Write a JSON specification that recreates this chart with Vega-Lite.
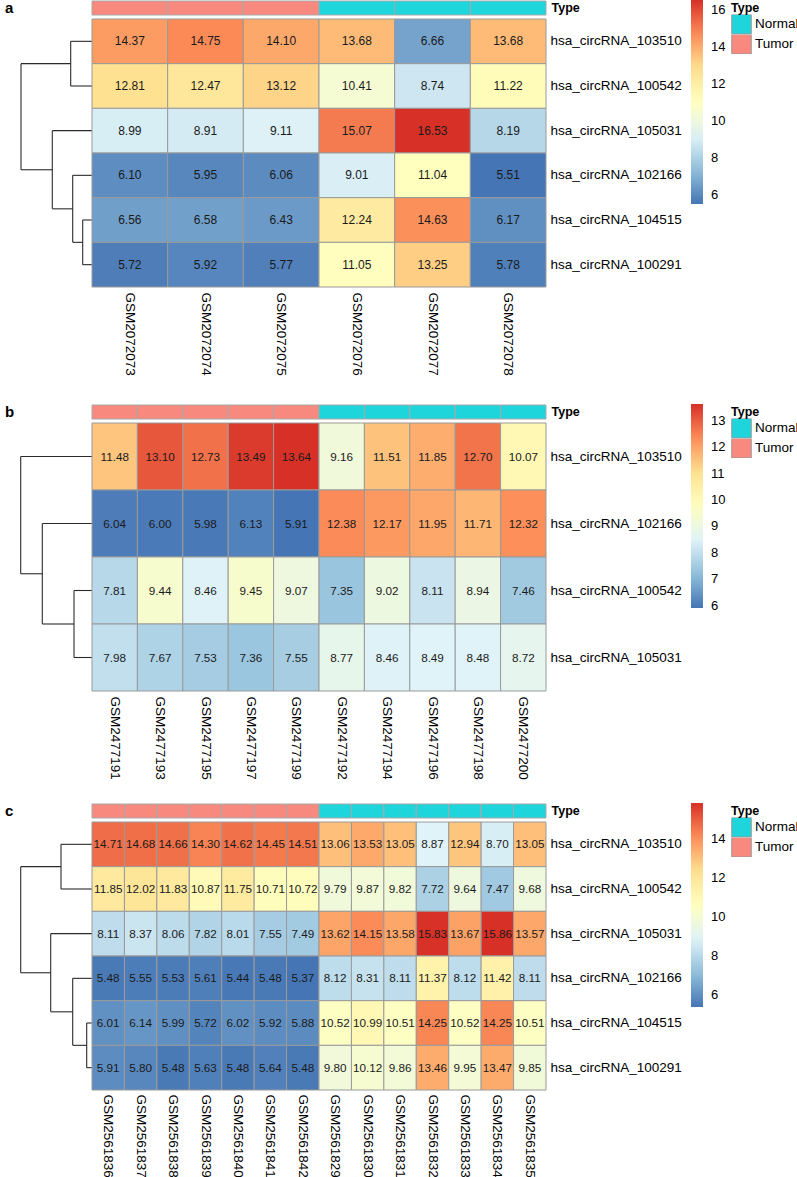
{
  "$schema": "https://vega.github.io/schema/vega-lite/v6.json",
  "padding": {"left": 5, "top": 0, "right": 0, "bottom": 0},
  "background": "white",
  "config": {
    "font": "Liberation Sans",
    "view": {"stroke": null},
    "axis": {"domain": false, "ticks": false, "tickSize": 0, "labelColor": "#000", "labelFontSize": 13.5, "grid": false},
    "legend": {"labelColor": "#000", "labelFontSize": 13.5, "titleColor": "#000", "titleFontSize": 12.5, "titleFontWeight": "bold", "gradientThickness": 12, "gradientLength": 204, "gradientStrokeWidth": 0, "rowPadding": 0, "symbolType": "square", "symbolSize": 380, "symbolStrokeColor": "#999999", "symbolStrokeWidth": 1, "titlePadding": 0}
  },
  "datasets": {
    "exprA": [
      {"gene": "hsa_circRNA_103510", "GSM2072073": 14.37, "GSM2072074": 14.75, "GSM2072075": 14.10, "GSM2072076": 13.68, "GSM2072077": 6.66, "GSM2072078": 13.68},
      {"gene": "hsa_circRNA_100542", "GSM2072073": 12.81, "GSM2072074": 12.47, "GSM2072075": 13.12, "GSM2072076": 10.41, "GSM2072077": 8.74, "GSM2072078": 11.22},
      {"gene": "hsa_circRNA_105031", "GSM2072073": 8.99, "GSM2072074": 8.91, "GSM2072075": 9.11, "GSM2072076": 15.07, "GSM2072077": 16.53, "GSM2072078": 8.19},
      {"gene": "hsa_circRNA_102166", "GSM2072073": 6.10, "GSM2072074": 5.95, "GSM2072075": 6.06, "GSM2072076": 9.01, "GSM2072077": 11.04, "GSM2072078": 5.51},
      {"gene": "hsa_circRNA_104515", "GSM2072073": 6.56, "GSM2072074": 6.58, "GSM2072075": 6.43, "GSM2072076": 12.24, "GSM2072077": 14.63, "GSM2072078": 6.17},
      {"gene": "hsa_circRNA_100291", "GSM2072073": 5.72, "GSM2072074": 5.92, "GSM2072075": 5.77, "GSM2072076": 11.05, "GSM2072077": 13.25, "GSM2072078": 5.78}
    ],
    "typeA": [
      {"sample": "GSM2072073", "Type": "Tumor", "track": "Type"},
      {"sample": "GSM2072074", "Type": "Tumor", "track": "Type"},
      {"sample": "GSM2072075", "Type": "Tumor", "track": "Type"},
      {"sample": "GSM2072076", "Type": "Normal", "track": "Type"},
      {"sample": "GSM2072077", "Type": "Normal", "track": "Type"},
      {"sample": "GSM2072078", "Type": "Normal", "track": "Type"}
    ],
    "dendA": [
      {"h1": 21.3, "h2": 21.3, "y1": 0, "y2": 1}, {"h1": 21.3, "h2": 0, "y1": 0, "y2": 0}, {"h1": 21.3, "h2": 0, "y1": 1, "y2": 1},
      {"h1": 9.3, "h2": 9.3, "y1": 4, "y2": 5}, {"h1": 9.3, "h2": 0, "y1": 4, "y2": 4}, {"h1": 9.3, "h2": 0, "y1": 5, "y2": 5},
      {"h1": 19.3, "h2": 19.3, "y1": 3, "y2": 4.5}, {"h1": 19.3, "h2": 0, "y1": 3, "y2": 3}, {"h1": 19.3, "h2": 9.3, "y1": 4.5, "y2": 4.5},
      {"h1": 39.7, "h2": 39.7, "y1": 2, "y2": 3.75}, {"h1": 39.7, "h2": 0, "y1": 2, "y2": 2}, {"h1": 39.7, "h2": 19.3, "y1": 3.75, "y2": 3.75},
      {"h1": 71, "h2": 71, "y1": 0.5, "y2": 2.875}, {"h1": 71, "h2": 21.3, "y1": 0.5, "y2": 0.5}, {"h1": 71, "h2": 39.7, "y1": 2.875, "y2": 2.875}
    ],
    "exprB": [
      {"gene": "hsa_circRNA_103510", "GSM2477191": 11.48, "GSM2477193": 13.10, "GSM2477195": 12.73, "GSM2477197": 13.49, "GSM2477199": 13.64, "GSM2477192": 9.16, "GSM2477194": 11.51, "GSM2477196": 11.85, "GSM2477198": 12.70, "GSM2477200": 10.07},
      {"gene": "hsa_circRNA_102166", "GSM2477191": 6.04, "GSM2477193": 6.00, "GSM2477195": 5.98, "GSM2477197": 6.13, "GSM2477199": 5.91, "GSM2477192": 12.38, "GSM2477194": 12.17, "GSM2477196": 11.95, "GSM2477198": 11.71, "GSM2477200": 12.32},
      {"gene": "hsa_circRNA_100542", "GSM2477191": 7.81, "GSM2477193": 9.44, "GSM2477195": 8.46, "GSM2477197": 9.45, "GSM2477199": 9.07, "GSM2477192": 7.35, "GSM2477194": 9.02, "GSM2477196": 8.11, "GSM2477198": 8.94, "GSM2477200": 7.46},
      {"gene": "hsa_circRNA_105031", "GSM2477191": 7.98, "GSM2477193": 7.67, "GSM2477195": 7.53, "GSM2477197": 7.36, "GSM2477199": 7.55, "GSM2477192": 8.77, "GSM2477194": 8.46, "GSM2477196": 8.49, "GSM2477198": 8.48, "GSM2477200": 8.72}
    ],
    "typeB": [
      {"sample": "GSM2477191", "Type": "Tumor", "track": "Type"},
      {"sample": "GSM2477193", "Type": "Tumor", "track": "Type"},
      {"sample": "GSM2477195", "Type": "Tumor", "track": "Type"},
      {"sample": "GSM2477197", "Type": "Tumor", "track": "Type"},
      {"sample": "GSM2477199", "Type": "Tumor", "track": "Type"},
      {"sample": "GSM2477192", "Type": "Normal", "track": "Type"},
      {"sample": "GSM2477194", "Type": "Normal", "track": "Type"},
      {"sample": "GSM2477196", "Type": "Normal", "track": "Type"},
      {"sample": "GSM2477198", "Type": "Normal", "track": "Type"},
      {"sample": "GSM2477200", "Type": "Normal", "track": "Type"}
    ],
    "dendB": [
      {"h1": 18, "h2": 18, "y1": 2, "y2": 3}, {"h1": 18, "h2": 0, "y1": 2, "y2": 2}, {"h1": 18, "h2": 0, "y1": 3, "y2": 3},
      {"h1": 49.7, "h2": 49.7, "y1": 1, "y2": 2.5}, {"h1": 49.7, "h2": 0, "y1": 1, "y2": 1}, {"h1": 49.7, "h2": 18, "y1": 2.5, "y2": 2.5},
      {"h1": 71.3, "h2": 71.3, "y1": 0, "y2": 1.75}, {"h1": 71.3, "h2": 0, "y1": 0, "y2": 0}, {"h1": 71.3, "h2": 49.7, "y1": 1.75, "y2": 1.75}
    ],
    "exprC": [
      {"gene": "hsa_circRNA_103510", "GSM2561836": 14.71, "GSM2561837": 14.68, "GSM2561838": 14.66, "GSM2561839": 14.30, "GSM2561840": 14.62, "GSM2561841": 14.45, "GSM2561842": 14.51, "GSM2561829": 13.06, "GSM2561830": 13.53, "GSM2561831": 13.05, "GSM2561832": 8.87, "GSM2561833": 12.94, "GSM2561834": 8.70, "GSM2561835": 13.05},
      {"gene": "hsa_circRNA_100542", "GSM2561836": 11.85, "GSM2561837": 12.02, "GSM2561838": 11.83, "GSM2561839": 10.87, "GSM2561840": 11.75, "GSM2561841": 10.71, "GSM2561842": 10.72, "GSM2561829": 9.79, "GSM2561830": 9.87, "GSM2561831": 9.82, "GSM2561832": 7.72, "GSM2561833": 9.64, "GSM2561834": 7.47, "GSM2561835": 9.68},
      {"gene": "hsa_circRNA_105031", "GSM2561836": 8.11, "GSM2561837": 8.37, "GSM2561838": 8.06, "GSM2561839": 7.82, "GSM2561840": 8.01, "GSM2561841": 7.55, "GSM2561842": 7.49, "GSM2561829": 13.62, "GSM2561830": 14.15, "GSM2561831": 13.58, "GSM2561832": 15.83, "GSM2561833": 13.67, "GSM2561834": 15.86, "GSM2561835": 13.57},
      {"gene": "hsa_circRNA_102166", "GSM2561836": 5.48, "GSM2561837": 5.55, "GSM2561838": 5.53, "GSM2561839": 5.61, "GSM2561840": 5.44, "GSM2561841": 5.48, "GSM2561842": 5.37, "GSM2561829": 8.12, "GSM2561830": 8.31, "GSM2561831": 8.11, "GSM2561832": 11.37, "GSM2561833": 8.12, "GSM2561834": 11.42, "GSM2561835": 8.11},
      {"gene": "hsa_circRNA_104515", "GSM2561836": 6.01, "GSM2561837": 6.14, "GSM2561838": 5.99, "GSM2561839": 5.72, "GSM2561840": 6.02, "GSM2561841": 5.92, "GSM2561842": 5.88, "GSM2561829": 10.52, "GSM2561830": 10.99, "GSM2561831": 10.51, "GSM2561832": 14.25, "GSM2561833": 10.52, "GSM2561834": 14.25, "GSM2561835": 10.51},
      {"gene": "hsa_circRNA_100291", "GSM2561836": 5.91, "GSM2561837": 5.80, "GSM2561838": 5.48, "GSM2561839": 5.63, "GSM2561840": 5.48, "GSM2561841": 5.64, "GSM2561842": 5.48, "GSM2561829": 9.80, "GSM2561830": 10.12, "GSM2561831": 9.86, "GSM2561832": 13.46, "GSM2561833": 9.95, "GSM2561834": 13.47, "GSM2561835": 9.85}
    ],
    "typeC": [
      {"sample": "GSM2561836", "Type": "Tumor", "track": "Type"},
      {"sample": "GSM2561837", "Type": "Tumor", "track": "Type"},
      {"sample": "GSM2561838", "Type": "Tumor", "track": "Type"},
      {"sample": "GSM2561839", "Type": "Tumor", "track": "Type"},
      {"sample": "GSM2561840", "Type": "Tumor", "track": "Type"},
      {"sample": "GSM2561841", "Type": "Tumor", "track": "Type"},
      {"sample": "GSM2561842", "Type": "Tumor", "track": "Type"},
      {"sample": "GSM2561829", "Type": "Normal", "track": "Type"},
      {"sample": "GSM2561830", "Type": "Normal", "track": "Type"},
      {"sample": "GSM2561831", "Type": "Normal", "track": "Type"},
      {"sample": "GSM2561832", "Type": "Normal", "track": "Type"},
      {"sample": "GSM2561833", "Type": "Normal", "track": "Type"},
      {"sample": "GSM2561834", "Type": "Normal", "track": "Type"},
      {"sample": "GSM2561835", "Type": "Normal", "track": "Type"}
    ],
    "dendC": [
      {"h1": 31, "h2": 31, "y1": 0, "y2": 1}, {"h1": 31, "h2": 0, "y1": 0, "y2": 0}, {"h1": 31, "h2": 0, "y1": 1, "y2": 1},
      {"h1": 5.3, "h2": 5.3, "y1": 4, "y2": 5}, {"h1": 5.3, "h2": 0, "y1": 4, "y2": 4}, {"h1": 5.3, "h2": 0, "y1": 5, "y2": 5},
      {"h1": 19.3, "h2": 19.3, "y1": 3, "y2": 4.5}, {"h1": 19.3, "h2": 0, "y1": 3, "y2": 3}, {"h1": 19.3, "h2": 5.3, "y1": 4.5, "y2": 4.5},
      {"h1": 41.3, "h2": 41.3, "y1": 2, "y2": 3.75}, {"h1": 41.3, "h2": 0, "y1": 2, "y2": 2}, {"h1": 41.3, "h2": 19.3, "y1": 3.75, "y2": 3.75},
      {"h1": 71.3, "h2": 71.3, "y1": 0.5, "y2": 2.875}, {"h1": 71.3, "h2": 31, "y1": 0.5, "y2": 0.5}, {"h1": 71.3, "h2": 41.3, "y1": 2.875, "y2": 2.875}
    ]
  },
  "spacing": 28,
  "resolve": {"scale": {"color": "independent"}},
  "vconcat": [
    {
      "spacing": 0,
      "bounds": "flush",
      "resolve": {"scale": {"color": "independent"}},
      "hconcat": [
        {
          "width": 87, "height": 286,
          "encoding": {
            "x": {"type": "quantitative", "scale": {"domain": [0, 87], "reverse": true, "nice": false, "zero": false}, "axis": null},
            "y": {"type": "quantitative", "scale": {"domain": [-0.903, 5.5], "reverse": true, "nice": false, "zero": false}, "axis": null}
          },
          "layer": [
            {
              "data": {"name": "dendA"},
              "mark": {"type": "rule", "color": "#2b2b2b", "strokeWidth": 1.1},
              "encoding": {
                "x": {"field": "h1", "type": "quantitative"},
                "x2": {"field": "h2"},
                "y": {"field": "y1", "type": "quantitative"},
                "y2": {"field": "y2"}
              }
            },
            {
              "data": {"values": [{"panel": "a"}]},
              "mark": {"type": "text", "align": "left", "baseline": "top", "fontSize": 15, "fontWeight": "bold", "color": "#000"},
              "encoding": {
                "x": {"datum": 87, "type": "quantitative"},
                "y": {"datum": -0.903, "type": "quantitative"},
                "text": {"field": "panel"}
              }
            }
          ]
        },
        {
          "spacing": 4,
          "bounds": "flush",
          "resolve": {"scale": {"color": "independent"}},
          "vconcat": [
            {
              "width": 454, "height": 14,
              "data": {"name": "typeA"},
              "mark": {"type": "rect", "stroke": "#a8a8a8", "strokeWidth": 1},
              "encoding": {
                "x": {"field": "sample", "type": "nominal", "sort": null, "axis": null},
                "y": {"field": "track", "type": "nominal", "title": null, "axis": {"orient": "right", "labelFontWeight": "bold", "labelFontSize": 12.5, "labelPadding": 5}},
                "color": {"field": "Type", "type": "nominal", "scale": {"domain": ["Normal", "Tumor"], "range": ["#1dd5db", "#f8897f"]}, "legend": {"orient": "none", "legendX": 639, "legendY": 1, "title": "Type", "labelOffset": 3, "rowPadding": 0, "clipHeight": 19.5}}
              }
            },
            {
              "width": 454, "height": 268,
              "data": {"name": "exprA"},
              "transform": [{"fold": ["GSM2072073", "GSM2072074", "GSM2072075", "GSM2072076", "GSM2072077", "GSM2072078"], "as": ["sample", "value"]}],
              "encoding": {
                "x": {"field": "sample", "type": "nominal", "sort": null, "title": null, "axis": {"orient": "bottom", "labelAngle": 90, "labelAlign": "left", "labelBaseline": "middle", "labelPadding": 5}},
                "y": {"field": "gene", "type": "nominal", "sort": null, "title": null, "axis": {"orient": "right", "labelPadding": 4}}
              },
              "layer": [
                {
                  "mark": {"type": "rect", "stroke": "#9a9a9a", "strokeWidth": 1},
                  "encoding": {
                    "color": {"field": "value", "type": "quantitative", "scale": {"domain": [5.51, 7.3467, 9.1833, 11.02, 12.8567, 14.6933, 16.53], "range": ["#4575b4", "#91bfdb", "#e0f3f8", "#ffffbf", "#fee090", "#fc8d59", "#d73027"], "interpolate": "rgb"}, "legend": {"orient": "none", "legendX": 599, "legendY": -19, "title": null, "direction": "vertical", "values": [6, 8, 10, 12, 14, 16], "labelOffset": 8, "labelFontSize": 13}}
                  }
                },
                {
                  "mark": {"type": "text", "fontSize": 12, "color": "#1a1a1a"},
                  "encoding": {"text": {"field": "value", "type": "quantitative", "format": ".2f"}}
                }
              ]
            }
          ]
        }
      ]
    },
    {
      "spacing": 23,
      "resolve": {"scale": {"color": "independent"}},
      "vconcat": [
        {
          "spacing": 0,
          "bounds": "flush",
          "resolve": {"scale": {"color": "independent"}},
          "hconcat": [
            {
              "width": 87, "height": 286,
              "encoding": {
                "x": {"type": "quantitative", "scale": {"domain": [0, 87], "reverse": true, "nice": false, "zero": false}, "axis": null},
                "y": {"type": "quantitative", "scale": {"domain": [-0.7687, 3.5], "reverse": true, "nice": false, "zero": false}, "axis": null}
              },
              "layer": [
                {
                  "data": {"name": "dendB"},
                  "mark": {"type": "rule", "color": "#2b2b2b", "strokeWidth": 1.1},
                  "encoding": {
                    "x": {"field": "h1", "type": "quantitative"},
                    "x2": {"field": "h2"},
                    "y": {"field": "y1", "type": "quantitative"},
                    "y2": {"field": "y2"}
                  }
                },
                {
                  "data": {"values": [{"panel": "b"}]},
                  "mark": {"type": "text", "align": "left", "baseline": "top", "fontSize": 15, "fontWeight": "bold", "color": "#000"},
                  "encoding": {
                    "x": {"datum": 87, "type": "quantitative"},
                    "y": {"datum": -0.7687, "type": "quantitative"},
                    "text": {"field": "panel"}
                  }
                }
              ]
            },
            {
              "spacing": 4,
              "bounds": "flush",
              "resolve": {"scale": {"color": "independent"}},
              "vconcat": [
                {
                  "width": 454, "height": 14,
                  "data": {"name": "typeB"},
                  "mark": {"type": "rect", "stroke": "#a8a8a8", "strokeWidth": 1},
                  "encoding": {
                    "x": {"field": "sample", "type": "nominal", "sort": null, "axis": null},
                    "y": {"field": "track", "type": "nominal", "title": null, "axis": {"orient": "right", "labelFontWeight": "bold", "labelFontSize": 12.5, "labelPadding": 5}},
                    "color": {"field": "Type", "type": "nominal", "scale": {"domain": ["Normal", "Tumor"], "range": ["#1dd5db", "#f8897f"]}, "legend": {"orient": "none", "legendX": 639, "legendY": 1, "title": "Type", "labelOffset": 3, "rowPadding": 0, "clipHeight": 19.5}}
                  }
                },
                {
                  "width": 454, "height": 268,
                  "data": {"name": "exprB"},
                  "transform": [{"fold": ["GSM2477191", "GSM2477193", "GSM2477195", "GSM2477197", "GSM2477199", "GSM2477192", "GSM2477194", "GSM2477196", "GSM2477198", "GSM2477200"], "as": ["sample", "value"]}],
                  "encoding": {
                    "x": {"field": "sample", "type": "nominal", "sort": null, "title": null, "axis": {"orient": "bottom", "labelAngle": 90, "labelAlign": "left", "labelBaseline": "middle", "labelPadding": 5}},
                    "y": {"field": "gene", "type": "nominal", "sort": null, "title": null, "axis": {"orient": "right", "labelPadding": 4}}
                  },
                  "layer": [
                    {
                      "mark": {"type": "rect", "stroke": "#9a9a9a", "strokeWidth": 1},
                      "encoding": {
                        "color": {"field": "value", "type": "quantitative", "scale": {"domain": [5.91, 7.1983, 8.4867, 9.775, 11.0633, 12.3517, 13.64], "range": ["#4575b4", "#91bfdb", "#e0f3f8", "#ffffbf", "#fee090", "#fc8d59", "#d73027"], "interpolate": "rgb"}, "legend": {"orient": "none", "legendX": 599, "legendY": -19, "title": null, "direction": "vertical", "values": [6, 7, 8, 9, 10, 11, 12, 13], "labelOffset": 8, "labelFontSize": 13}}
                      }
                    },
                    {
                      "mark": {"type": "text", "fontSize": 11.7, "color": "#1a1a1a"},
                      "encoding": {"text": {"field": "value", "type": "quantitative", "format": ".2f"}}
                    }
                  ]
                }
              ]
            }
          ]
        },
        {
          "spacing": 0,
          "bounds": "flush",
          "resolve": {"scale": {"color": "independent"}},
          "hconcat": [
            {
              "width": 87, "height": 286,
              "encoding": {
                "x": {"type": "quantitative", "scale": {"domain": [0, 87], "reverse": true, "nice": false, "zero": false}, "axis": null},
                "y": {"type": "quantitative", "scale": {"domain": [-0.903, 5.5], "reverse": true, "nice": false, "zero": false}, "axis": null}
              },
              "layer": [
                {
                  "data": {"name": "dendC"},
                  "mark": {"type": "rule", "color": "#2b2b2b", "strokeWidth": 1.1},
                  "encoding": {
                    "x": {"field": "h1", "type": "quantitative"},
                    "x2": {"field": "h2"},
                    "y": {"field": "y1", "type": "quantitative"},
                    "y2": {"field": "y2"}
                  }
                },
                {
                  "data": {"values": [{"panel": "c"}]},
                  "mark": {"type": "text", "align": "left", "baseline": "top", "fontSize": 15, "fontWeight": "bold", "color": "#000"},
                  "encoding": {
                    "x": {"datum": 87, "type": "quantitative"},
                    "y": {"datum": -0.903, "type": "quantitative"},
                    "text": {"field": "panel"}
                  }
                }
              ]
            },
            {
              "spacing": 4,
              "bounds": "flush",
              "resolve": {"scale": {"color": "independent"}},
              "vconcat": [
                {
                  "width": 454, "height": 14,
                  "data": {"name": "typeC"},
                  "mark": {"type": "rect", "stroke": "#a8a8a8", "strokeWidth": 1},
                  "encoding": {
                    "x": {"field": "sample", "type": "nominal", "sort": null, "axis": null},
                    "y": {"field": "track", "type": "nominal", "title": null, "axis": {"orient": "right", "labelFontWeight": "bold", "labelFontSize": 12.5, "labelPadding": 5}},
                    "color": {"field": "Type", "type": "nominal", "scale": {"domain": ["Normal", "Tumor"], "range": ["#1dd5db", "#f8897f"]}, "legend": {"orient": "none", "legendX": 639, "legendY": 1, "title": "Type", "labelOffset": 3, "rowPadding": 0, "clipHeight": 19.5}}
                  }
                },
                {
                  "width": 454, "height": 268,
                  "data": {"name": "exprC"},
                  "transform": [{"fold": ["GSM2561836", "GSM2561837", "GSM2561838", "GSM2561839", "GSM2561840", "GSM2561841", "GSM2561842", "GSM2561829", "GSM2561830", "GSM2561831", "GSM2561832", "GSM2561833", "GSM2561834", "GSM2561835"], "as": ["sample", "value"]}],
                  "encoding": {
                    "x": {"field": "sample", "type": "nominal", "sort": null, "title": null, "axis": {"orient": "bottom", "labelAngle": 90, "labelAlign": "left", "labelBaseline": "middle", "labelPadding": 4}},
                    "y": {"field": "gene", "type": "nominal", "sort": null, "title": null, "axis": {"orient": "right", "labelPadding": 4}}
                  },
                  "layer": [
                    {
                      "mark": {"type": "rect", "stroke": "#9a9a9a", "strokeWidth": 1},
                      "encoding": {
                        "color": {"field": "value", "type": "quantitative", "scale": {"domain": [5.37, 7.1183, 8.8667, 10.615, 12.3633, 14.1117, 15.86], "range": ["#4575b4", "#91bfdb", "#e0f3f8", "#ffffbf", "#fee090", "#fc8d59", "#d73027"], "interpolate": "rgb"}, "legend": {"orient": "none", "legendX": 599, "legendY": -19, "title": null, "direction": "vertical", "values": [6, 8, 10, 12, 14], "labelOffset": 8, "labelFontSize": 13}}
                      }
                    },
                    {
                      "mark": {"type": "text", "fontSize": 11.7, "color": "#1a1a1a"},
                      "encoding": {"text": {"field": "value", "type": "quantitative", "format": ".2f"}}
                    }
                  ]
                }
              ]
            }
          ]
        }
      ]
    }
  ]
}
